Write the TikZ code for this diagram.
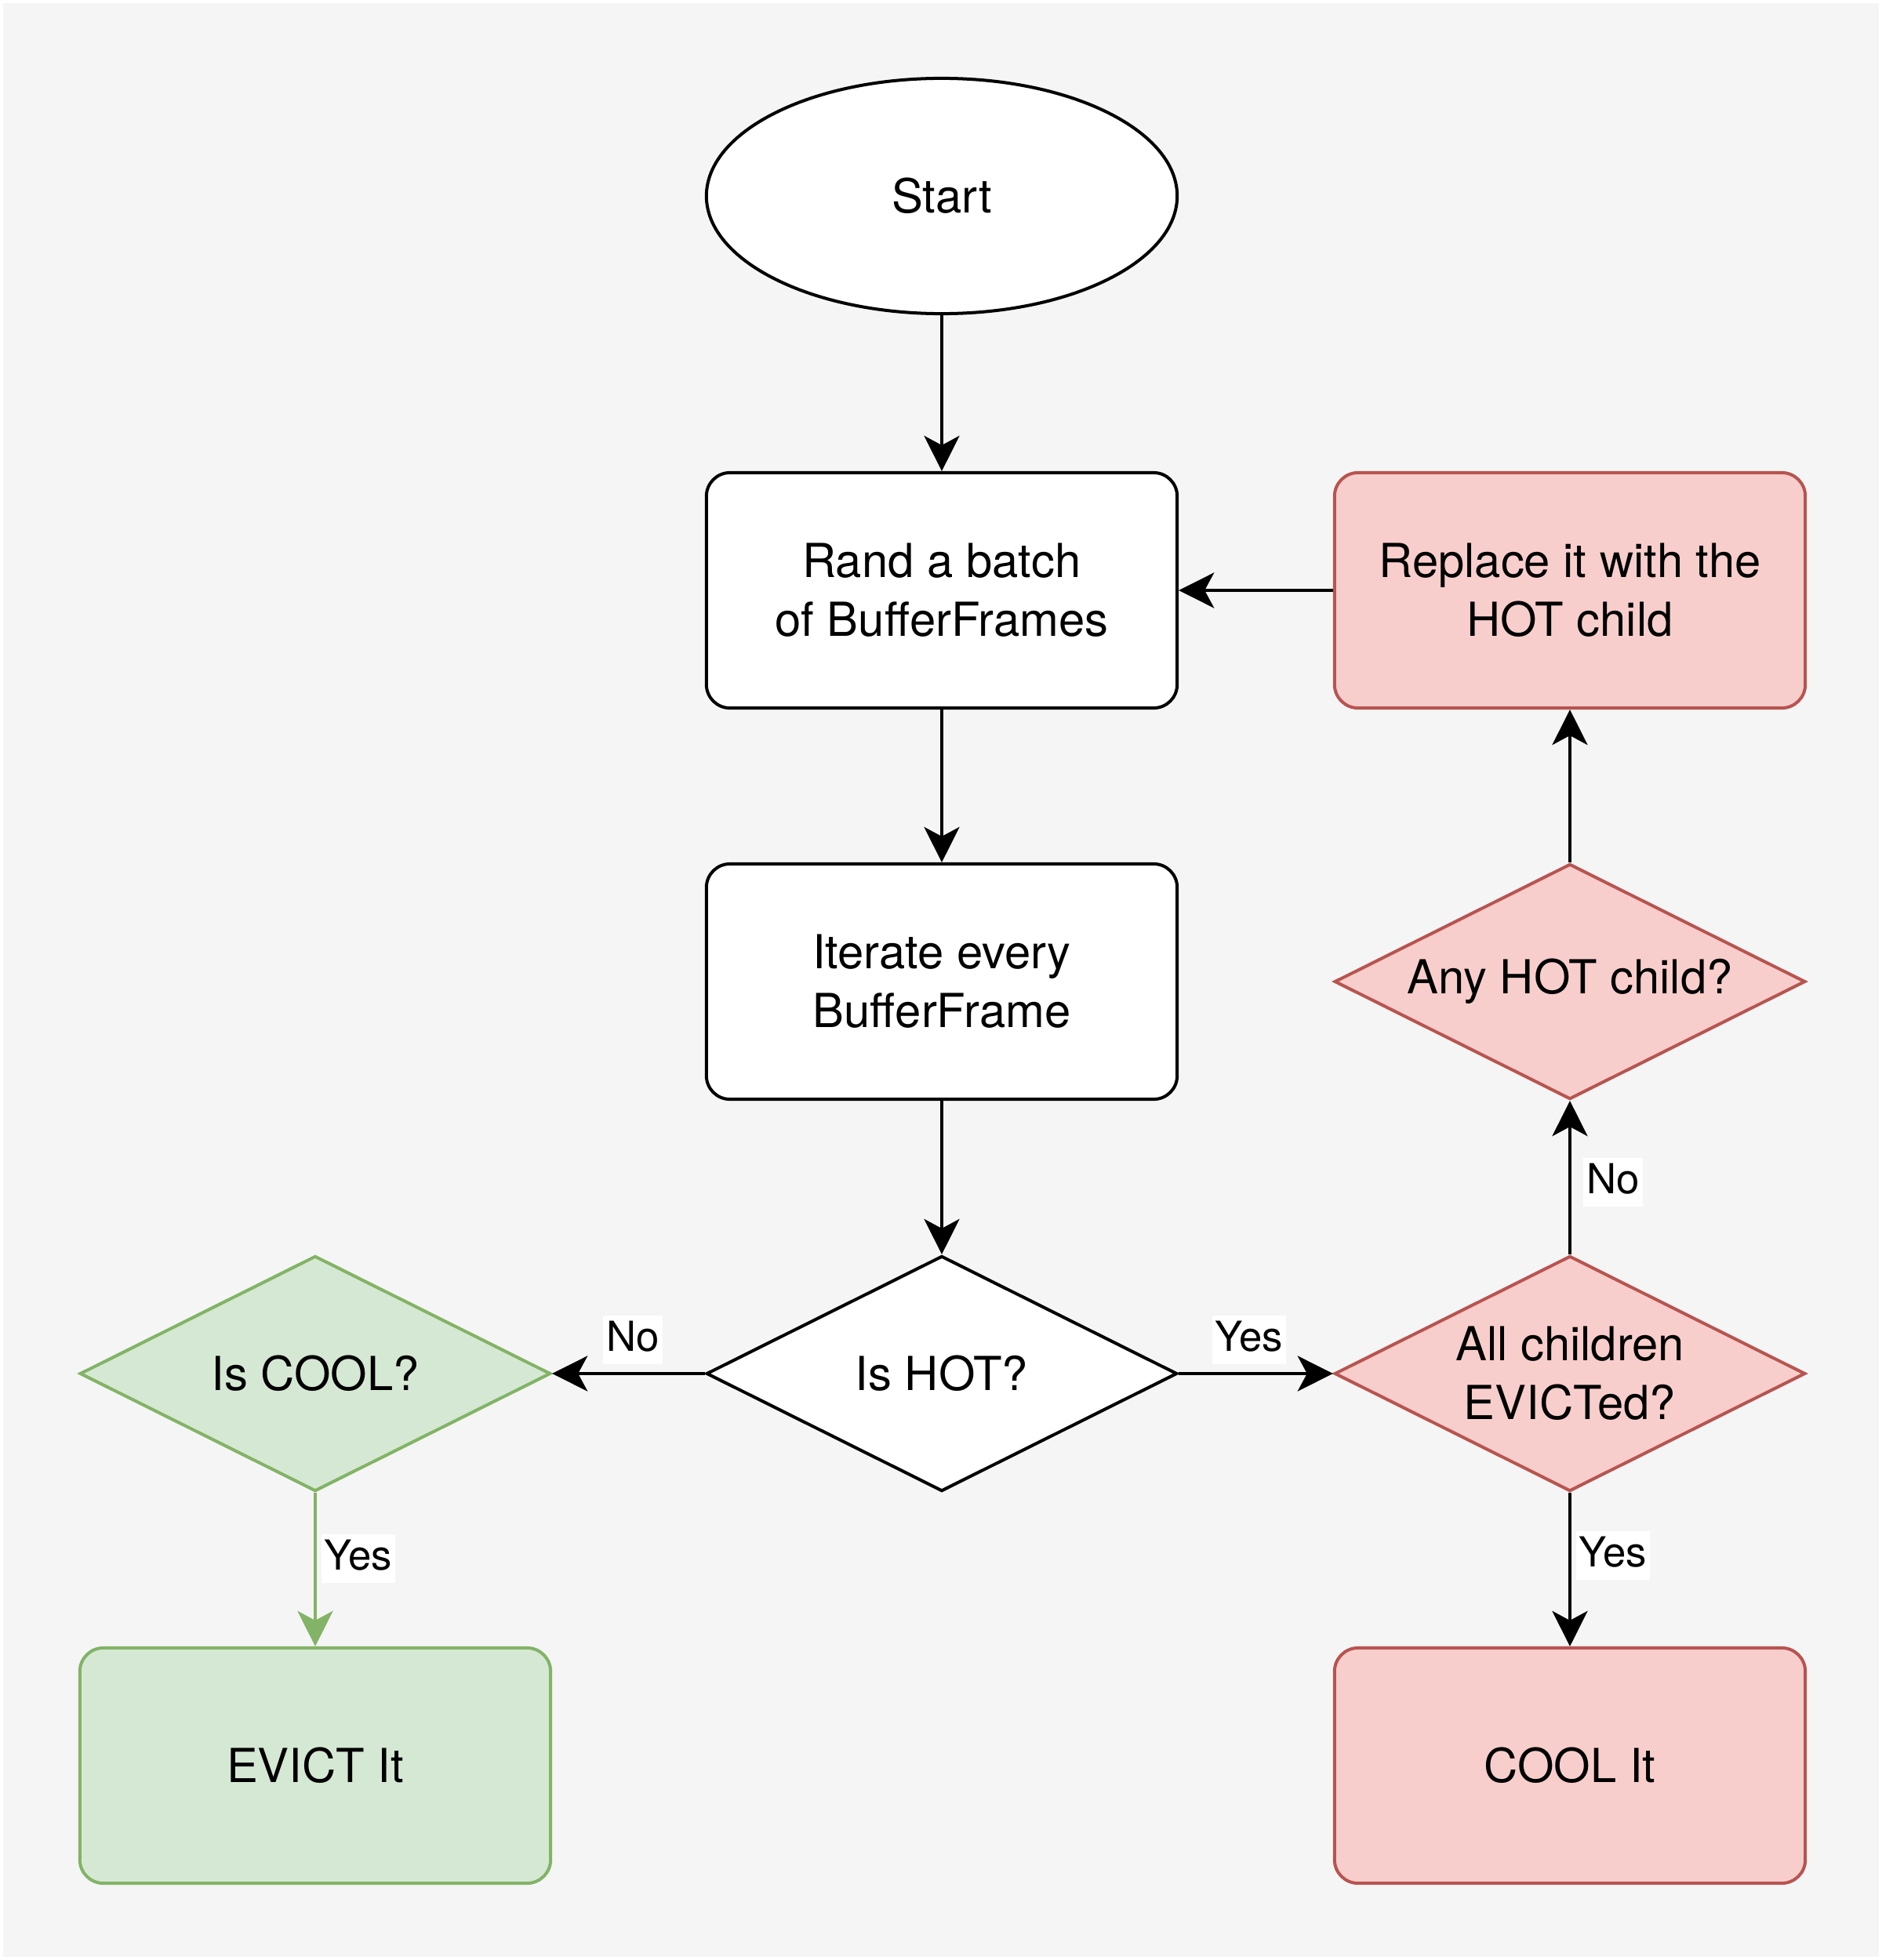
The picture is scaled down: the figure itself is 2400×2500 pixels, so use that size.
\documentclass[tikz,border=0pt]{standalone}
\usepackage{fontspec}
\setmainfont{TeX Gyre Heros}
\usetikzlibrary{shapes.geometric,arrows.meta}
\definecolor{bgc}{HTML}{F5F5F5}
\definecolor{redfill}{HTML}{F8CECC}
\definecolor{redline}{HTML}{B85450}
\definecolor{greenfill}{HTML}{D5E8D4}
\definecolor{greenline}{HTML}{82B366}
\tikzset{
  base/.style={draw=black, fill=white, line width=0.04cm, align=center,
    font=\fontsize{17}{21.3}\selectfont, inner sep=0pt},
  procbox/.style={base, rectangle, rounded corners=0.3cm, minimum width=6cm, minimum height=3cm},
  termbox/.style={base, ellipse, minimum width=6cm, minimum height=3cm},
  decbox/.style={base, diamond, minimum width=6cm, minimum height=3cm},
  txt/.style={align=center, font=\fontsize{17}{21.3}\selectfont, inner sep=0pt},
  redst/.style={fill=redfill, draw=redline},
  greenst/.style={fill=greenfill, draw=greenline},
  conn/.style={line width=0.042cm, -{Stealth[length=0.45cm,width=0.45cm,inset=0.12cm]}},
  lbl/.style={fill=white, font=\fontsize{15}{18}\selectfont, inner xsep=0.04cm, inner ysep=0.07cm,
    text height=0.38cm, text depth=0.1cm}
}
\begin{document}
\begin{tikzpicture}[x=0.01cm,y=-0.01cm]
\path[use as bounding box, fill=white] (0,0) rectangle (2400,2500);
\fill[bgc] (4,4) rectangle (2396,2496);

\node[termbox] (start) at (1201,250) {Start};
\node[procbox] (rand) at (1201,753) {Rand a batch\\of BufferFrames};
\node[procbox] (iter) at (1201,1252) {Iterate every\\BufferFrame};
\node[decbox] (hot) at (1201,1752) {};
\node[txt] (hotT) at (hot) {Is HOT?};

\node[decbox, greenst] (cool) at (402,1752) {};
\node[txt] (coolT) at (cool) {Is COOL?};
\node[procbox, greenst] (evict) at (402,2252) {EVICT It};

\node[decbox, redst] (allc) at (2002,1752) {};
\node[txt] (allcT) at (allc) {All children\\EVICTed?};
\node[procbox, redst] (coolit) at (2002,2252) {COOL It};
\node[decbox, redst] (anyhot) at (2002,1252) {};
\node[txt] (anyhotT) at (anyhot) {Any HOT child?};
\node[procbox, redst] (repl) at (2002,753) {Replace it with the\\HOT child};

\draw[conn] (start.south) -- (rand.north);
\draw[conn] (rand.south) -- (iter.north);
\draw[conn] (iter.south) -- (hot.north);
\draw[conn] (hot.west) -- (cool.east);
\draw[conn] (hot.east) -- (allc.west);
\draw[conn, greenline] (cool.south) -- (evict.north);
\draw[conn] (allc.south) -- (coolit.north);
\draw[conn] (allc.north) -- (anyhot.south);
\draw[conn] (anyhot.north) -- (repl.south);
\draw[conn] (repl.west) -- (rand.east);

\node[lbl] (lNo1) at (807,1709) {No};
\node[lbl] (lYes1) at (1593,1709) {Yes};
\node[lbl] (lYes2) at (457,1988) {Yes};
\node[lbl] (lYes3) at (2057,1984) {Yes};
\node[lbl] (lNo2) at (2057,1508) {No};
\end{tikzpicture}
\end{document}
